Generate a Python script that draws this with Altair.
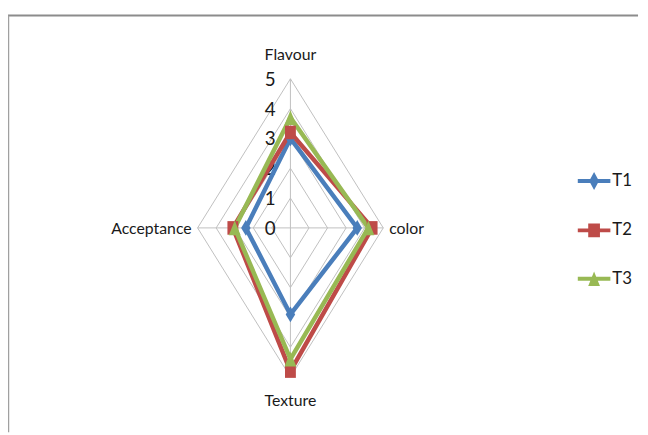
import math
import altair as alt
import pandas as pd

# ---- data ----
categories = ["Flavour", "color", "Texture", "Acceptance"]
angles_deg = [90, 0, 270, 180]
series_names = ["T1", "T2", "T3"]
t1_values = [3.0, 3.6, 2.9, 2.4]
t2_values = [3.2, 4.4, 4.8, 3.1]
t3_values = [3.7, 4.2, 4.4, 3.0]
tick_values = [0, 1, 2, 3, 4, 5]
ring_levels = [1, 2, 3, 4, 5]
series_colors = ["#4A7EBB", "#BE4B48", "#98B954"]

FONT = "Lato"

# ---- tables built from the arrays ----
rows = []
for name, vals in zip(series_names, [t1_values, t2_values, t3_values]):
    for i in range(len(categories) + 1):
        k = i % len(categories)
        rows.append({"series": name, "cat": categories[k], "ang": angles_deg[k],
                     "value": vals[k], "ord": i})
series_df = pd.DataFrame(rows)

ring_rows = []
for r in ring_levels:
    for i in range(len(categories) + 1):
        k = i % len(categories)
        ring_rows.append({"ring": r, "ang": angles_deg[k], "value": r, "ord": i})
ring_df = pd.DataFrame(ring_rows)

spoke_df = pd.DataFrame({"cat": categories, "ang": angles_deg, "value": [5] * 4})
tick_df = pd.DataFrame({"v": tick_values, "label": [str(v) for v in tick_values]})
legend_df = pd.DataFrame({"series": series_names})

W, H = 640, 427
cx, cy = 286, 220          # centre of the radar inside the plot area (px)
px_x, px_y = 18.8, 30.2    # pixels per unit, horizontally / vertically
x_scale = alt.Scale(domain=[-cx / px_x, (W - cx) / px_x], nice=False, zero=False)
y_scale = alt.Scale(domain=[-(H - cy) / px_y, cy / px_y], nice=False, zero=False)
color_scale = alt.Scale(domain=series_names, range=series_colors)

polar = dict(
    x="datum.value * cos(datum.ang * PI / 180)",
    y="datum.value * sin(datum.ang * PI / 180)",
)

X = alt.X("x:Q", scale=x_scale, axis=None)
Y = alt.Y("y:Q", scale=y_scale, axis=None)

rings = alt.Chart(ring_df).transform_calculate(**polar).mark_line(
    color="#BFBFBF", strokeWidth=1
).encode(x=X, y=Y, detail="ring:N", order="ord:Q")

spokes = alt.Chart(spoke_df).transform_calculate(
    x0="0", y0="0", **polar
).mark_rule(color="#BFBFBF", strokeWidth=1).encode(
    x=alt.X("x0:Q", scale=x_scale, axis=None),
    y=alt.Y("y0:Q", scale=y_scale, axis=None),
    x2="x:Q", y2="y:Q",
)

ticks = alt.Chart(tick_df).transform_calculate(x0="0").mark_text(
    align="right", baseline="middle", dx=-15, dy=1, fontSize=19, font=FONT, color="#1a1a1a"
).encode(
    x=alt.X("x0:Q", scale=x_scale, axis=None),
    y=alt.Y("v:Q", scale=y_scale, axis=None),
    text="label:N",
)

lines = alt.Chart(series_df).transform_calculate(**polar).mark_line(
    strokeWidth=4.5, strokeJoin="miter"
).encode(
    x=X, y=Y,
    color=alt.Color("series:N", scale=color_scale, legend=None),
    detail="series:N",
    order="ord:Q",
)

marker_paths = {
    "T1": "M0,-1L0.6,0L0,1L-0.6,0Z",
    "T2": "M-0.8,-1H0.8V1H-0.8Z",
    "T3": "M0,-1L0.8,1L-0.8,1Z",
}
marker_sizes = {"T1": 256, "T2": 190, "T3": 225}
point_layers = []
for name in series_names:
    point_layers.append(
        alt.Chart(series_df).transform_filter(
            alt.datum.series == name
        ).transform_filter("datum.ord < 4").transform_calculate(**polar).mark_point(
            shape=marker_paths[name], filled=True, size=marker_sizes[name], opacity=1
        ).encode(
            x=X, y=Y,
            color=alt.Color("series:N", scale=color_scale, legend=None),
        )
    )

legend_paths = [
    "M-1,-0.12H1V0.12H-1ZM0,-0.55L0.3,0L0,0.55L-0.3,0Z",
    "M-1,-0.12H1V0.12H-1ZM-0.36,-0.42H0.36V0.42H-0.36Z",
    "M-1,-0.12H1V0.12H-1ZM0,-0.45L0.36,0.45L-0.36,0.45Z",
]
legend_opts = dict(
    orient="none", legendX=577, legendY=156, title=None,
    symbolSize=1089, symbolStrokeWidth=0, labelFontSize=17, labelFont=FONT,
    labelColor="#1a1a1a", rowPadding=24, labelOffset=2, padding=0,
)
# legend-only layer: its points sit outside the plot domain and are clipped away
legend_layer = alt.Chart(legend_df).transform_calculate(
    x0="1000", y0="1000"
).mark_point(filled=True, opacity=1, clip=True).encode(
    x=alt.X("x0:Q", scale=x_scale, axis=None),
    y=alt.Y("y0:Q", scale=y_scale, axis=None),
    color=alt.Color("series:N", scale=color_scale, legend=alt.Legend(**legend_opts)),
    shape=alt.Shape(
        "series:N", scale=alt.Scale(domain=series_names, range=legend_paths),
        legend=alt.Legend(**legend_opts),
    ),
)

label_specs = [
    ("Flavour", dict(align="center", baseline="middle", dx=0, dy=-24)),
    ("color", dict(align="left", baseline="middle", dx=6, dy=1)),
    ("Texture", dict(align="center", baseline="middle", dx=0, dy=24)),
    ("Acceptance", dict(align="right", baseline="middle", dx=-6, dy=1)),
]
label_layers = []
for cat, opts in label_specs:
    label_layers.append(
        alt.Chart(spoke_df).transform_filter(alt.datum.cat == cat).transform_calculate(
            **polar
        ).mark_text(fontSize=16, font=FONT, color="#1a1a1a", **opts).encode(
            x=X, y=Y, text="cat:N"
        )
    )

frame_df = pd.DataFrame({"k": [0]})
frame_top = alt.Chart(frame_df).mark_rule(color="#8C8C8C", strokeWidth=2).encode(
    x=alt.value(0), x2=alt.value(638), y=alt.value(5)
)
frame_left = alt.Chart(frame_df).mark_rule(color="#A0A0A0", strokeWidth=1.5).encode(
    x=alt.value(0.5), y=alt.value(5), y2=alt.value(H)
)

chart = alt.layer(
    frame_top, frame_left, rings, spokes, ticks, lines, *point_layers,
    legend_layer, *label_layers,
).resolve_scale(
    color="independent", shape="independent"
).resolve_legend(
    color="independent", shape="independent"
).properties(
    width=W, height=H, autosize=alt.AutoSizeParams(type="none"), padding=0,
    background="white",
).configure_view(stroke=None)

chart.save("out.html", embed_options={"renderer": "svg", "actions": False})
